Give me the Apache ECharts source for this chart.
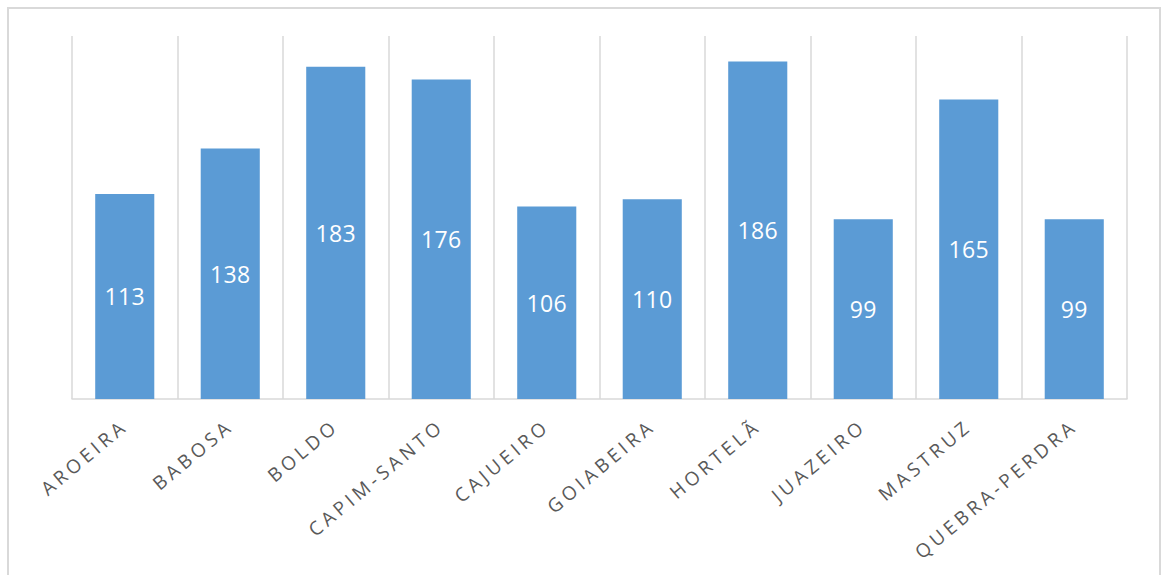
<!DOCTYPE html>
<html>
<head>
<meta charset="utf-8">
<script src="https://cdn.jsdelivr.net/npm/echarts@6/dist/echarts.min.js"></script>
<style>
  html, body { margin: 0; padding: 0; background: #fff; }
  #chart { width: 1167px; height: 575px; }
  #chart text { letter-spacing: 4px; }
  #chart text[fill="#fff"], #chart text[fill="#ffffff"], #chart text[fill="white"], #chart text[fill="rgb(255,255,255)"] { letter-spacing: 0.3px; }
</style>
</head>
<body>
<div id="chart"></div>
<script>
const categories = ['AROEIRA', 'BABOSA', 'BOLDO', 'CAPIM-SANTO', 'CAJUEIRO', 'GOIABEIRA', 'HORTELÃ', 'JUAZEIRO', 'MASTRUZ', 'QUEBRA-PERDRA'];
const values = [113, 138, 183, 176, 106, 110, 186, 99, 165, 99];

const chart = echarts.init(document.getElementById('chart'), null, { renderer: 'svg' });
chart.setOption({
  animation: false,
  backgroundColor: '#ffffff',
  graphic: [{
    type: 'rect',
    shape: { x: 8, y: 8, width: 1152, height: 600 },
    style: { fill: 'none', stroke: '#d9d9d9', lineWidth: 2 },
    silent: true
  }],
  grid: { left: 72, right: 40, top: 36, bottom: 176 },
  xAxis: {
    type: 'category',
    data: categories,
    axisLine: { show: true, lineStyle: { color: '#d9d9d9', width: 1.5 } },
    axisTick: { show: false },
    splitLine: { show: true, lineStyle: { color: '#d9d9d9', width: 1.5 } },
    axisLabel: {
      interval: 0,
      rotate: 40,
      margin: 24,
      color: '#595959',
      fontFamily: 'Open Sans',
      fontSize: 19
    }
  },
  yAxis: {
    type: 'value',
    min: 0,
    max: 200,
    show: false,
    splitLine: { show: false }
  },
  series: [{
    type: 'bar',
    data: values,
    barCategoryGap: '44%',
    itemStyle: { color: '#5b9bd5' },
    label: {
      show: true,
      position: 'inside',
      color: '#ffffff',
      fontFamily: 'Open Sans',
      fontSize: 23
    }
  }]
});
</script>
</body>
</html>
